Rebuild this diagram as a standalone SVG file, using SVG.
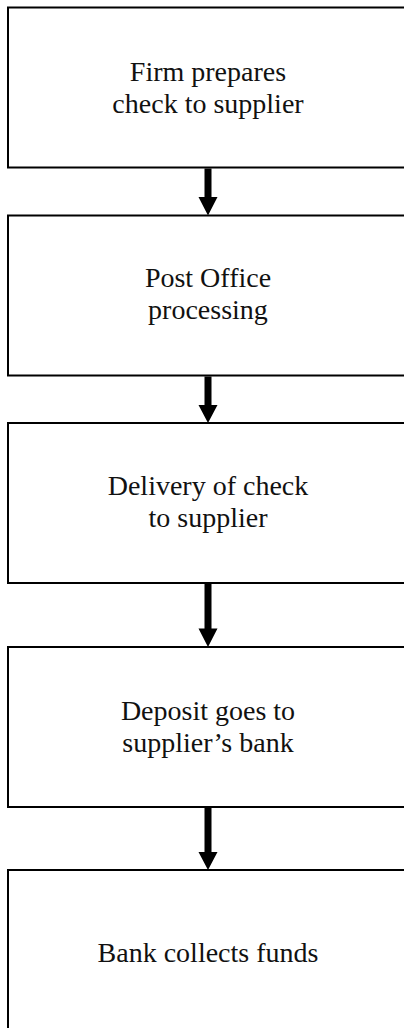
<svg xmlns="http://www.w3.org/2000/svg" width="404" height="1028" viewBox="0 0 404 1028">
<style>
.box{fill:#fff;stroke:#000;stroke-width:2}
.lbl{font-family:"Liberation Serif","Times New Roman",serif;font-size:28px;fill:#111;text-anchor:middle}
.arr{fill:#000}
</style>
<rect width="404" height="1028" fill="#fff"/>
<g id="n1"><rect class="box" x="8" y="7.5" width="400" height="160"/><text class="lbl" x="208" y="81">Firm prepares</text><text class="lbl" x="208" y="113">check to supplier</text></g>
<g id="n2"><rect class="box" x="8" y="215.5" width="400" height="160"/><text class="lbl" x="208" y="287">Post Office</text><text class="lbl" x="208" y="319">processing</text></g>
<g id="n3"><rect class="box" x="8" y="423" width="400" height="160"/><text class="lbl" x="208" y="495">Delivery of check</text><text class="lbl" x="208" y="527">to supplier</text></g>
<g id="n4"><rect class="box" x="8" y="647" width="400" height="160"/><text class="lbl" x="208" y="720">Deposit goes to</text><text class="lbl" x="208" y="752">supplier’s bank</text></g>
<g id="n5"><rect class="box" x="8" y="870" width="400" height="170"/><text class="lbl" x="208" y="962">Bank collects funds</text></g>
<g id="connectors">
<path class="arr" d="M204.5 168.5H211.5V197H217.5L208 215.5L198.5 197H204.5Z"/>
<path class="arr" d="M204.5 376.5H211.5V405H217.5L208 423L198.5 405H204.5Z"/>
<path class="arr" d="M204.5 584H211.5V628.5H217.5L208 647L198.5 628.5H204.5Z"/>
<path class="arr" d="M204.5 808H211.5V852H217.5L208 870L198.5 852H204.5Z"/>
</g>
</svg>
